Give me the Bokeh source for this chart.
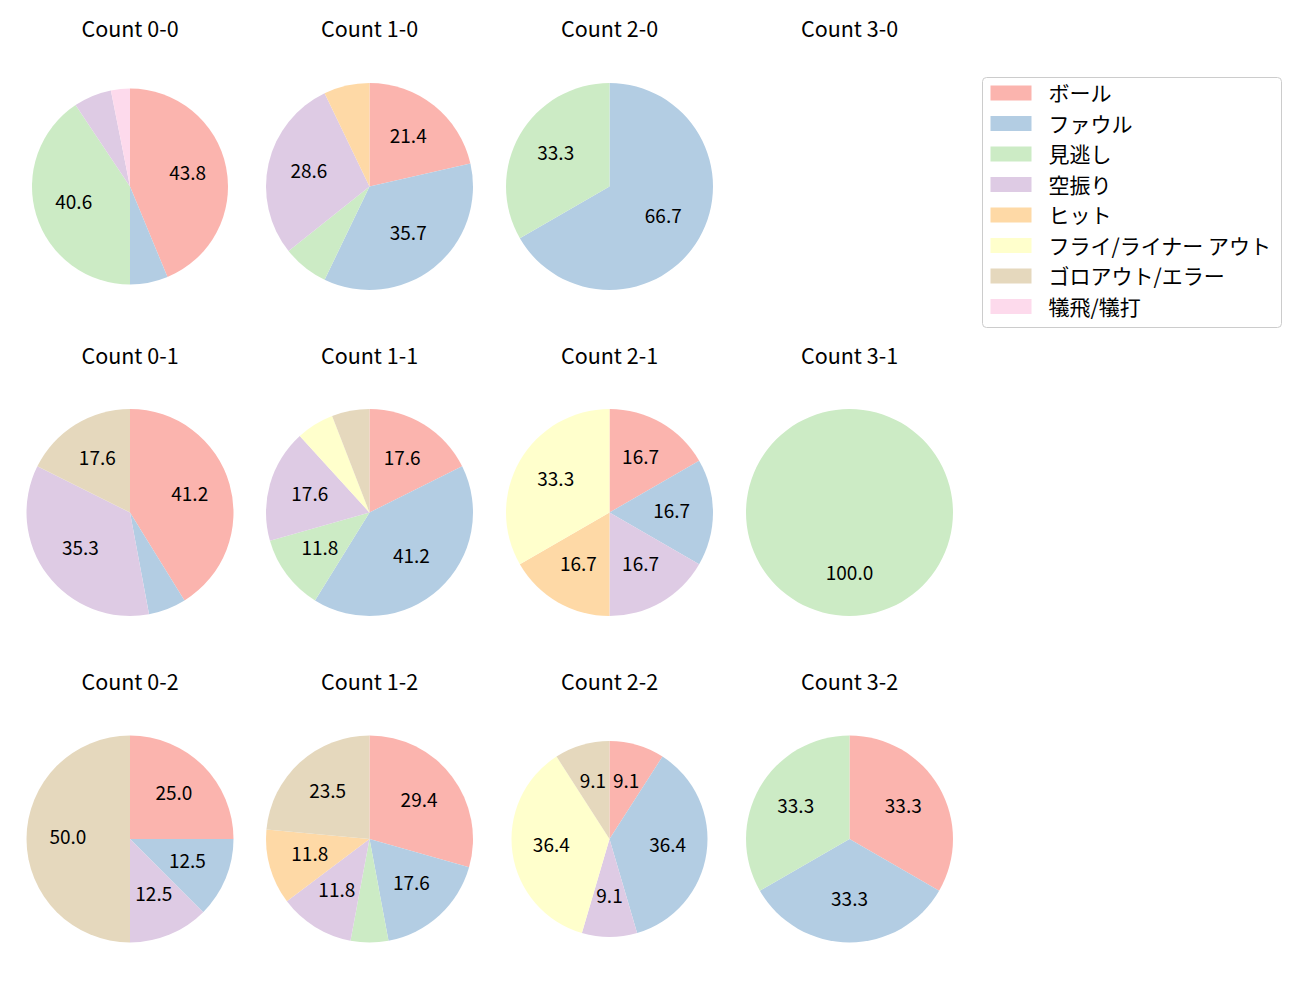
import math
from bokeh.plotting import figure
from bokeh.models import Range1d, ColumnDataSource
from bokeh.models.glyphs import Rect
from bokeh.core.properties import value
from bokeh.embed import file_html
from bokeh.resources import INLINE

# ---- data ----
categories = ["ボール", "ファウル", "見逃し", "空振り", "ヒット",
              "フライ/ライナー アウト", "ゴロアウト/エラー", "犠飛/犠打"]
colors = ["#fbb4ae", "#b3cde3", "#ccebc5", "#decbe4",
          "#fed9a6", "#ffffcc", "#e5d8bd", "#fddaec"]

titles = ["Count 0-0", "Count 1-0", "Count 2-0", "Count 3-0",
          "Count 0-1", "Count 1-1", "Count 2-1", "Count 3-1",
          "Count 0-2", "Count 1-2", "Count 2-2", "Count 3-2"]

# pitch counts per category (same order as categories)
c_0_0 = [14, 2, 13, 2, 0, 0, 0, 1]
c_1_0 = [3, 5, 1, 4, 1, 0, 0, 0]
c_2_0 = [0, 2, 1, 0, 0, 0, 0, 0]
c_3_0 = [0, 0, 0, 0, 0, 0, 0, 0]
c_0_1 = [7, 1, 0, 6, 0, 0, 3, 0]
c_1_1 = [3, 7, 2, 3, 0, 1, 1, 0]
c_2_1 = [1, 1, 0, 1, 1, 2, 0, 0]
c_3_1 = [0, 0, 1, 0, 0, 0, 0, 0]
c_0_2 = [2, 1, 0, 1, 0, 0, 4, 0]
c_1_2 = [5, 3, 1, 2, 2, 0, 4, 0]
c_2_2 = [1, 4, 0, 1, 0, 4, 1, 0]
c_3_2 = [1, 1, 1, 0, 0, 0, 0, 0]
all_counts = [c_0_0, c_1_0, c_2_0, c_3_0,
              c_0_1, c_1_1, c_2_1, c_3_1,
              c_0_2, c_1_2, c_2_2, c_3_2]

# ---- layout (data x = page x, data y = 1000 - page y) ----
W, H = 1284, 984
col_x = [129.5, 369, 609, 849]
row_y = [1000 - 186, 1000 - 512, 1000 - 838.5]
title_y = [1000 - 29, 1000 - 356, 1000 - 682]
radii = [98, 103.5, 103.5, 103.5,
         103.5, 103.5, 103.5, 103.5,
         103.5, 103.5, 98, 103.5]
FONT = "Noto Sans CJK JP"

p = figure(width=W, height=H, output_backend="svg", toolbar_location=None,
           x_range=Range1d(0, W), y_range=Range1d(1000 - H, 1000),
           min_border=0, outline_line_color=None, background_fill_color="white")
p.xaxis.visible = False
p.yaxis.visible = False
p.grid.visible = False

wedge_data = {i: dict(x=[], y=[], r=[], s=[], e=[]) for i in range(len(categories))}
lab = dict(x=[], y=[], t=[])
tit = dict(x=[], y=[], t=[])

for k, counts in enumerate(all_counts):
    row, col = divmod(k, 4)
    cx, cy = col_x[col], row_y[row]
    tit["x"].append(cx); tit["y"].append(title_y[row]); tit["t"].append(titles[k])
    total = sum(counts)
    if total == 0:
        continue
    R = radii[k]
    cum = 0.0
    for i, c in enumerate(counts):
        if c == 0:
            continue
        f0 = cum / total
        cum += c
        f1 = cum / total
        a_start = math.pi / 2 - f1 * 2 * math.pi
        a_end = math.pi / 2 - f0 * 2 * math.pi
        d = wedge_data[i]
        d["x"].append(cx); d["y"].append(cy); d["r"].append(R)
        # a full circle would collapse to nothing; keep it just short of 360 degrees
        d["s"].append(a_start + (1e-4 if c == total else 0.0))
        d["e"].append(a_end)
        pct = 100.0 * c / total
        if pct > 8:
            mid = (a_start + a_end) / 2
            lab["x"].append(cx + 0.6 * R * math.cos(mid))
            lab["y"].append(cy + 0.6 * R * math.sin(mid))
            lab["t"].append(f"{pct:.1f}")

for i, cat in enumerate(categories):
    p.wedge(x="x", y="y", radius="r", start_angle="s", end_angle="e",
            source=ColumnDataSource(wedge_data[i]),
            fill_color=colors[i], line_color=None)

p.text(x="x", y="y", text="t", source=ColumnDataSource(lab),
       text_font=value(FONT), text_font_size="19px", text_color="black",
       text_align="center", text_baseline="middle", y_offset=-2)
p.text(x="x", y="y", text="t", source=ColumnDataSource(tit),
       text_font=value(FONT), text_font_size="21.5px", text_color="black",
       text_align="center", text_baseline="middle", y_offset=-2)

# ---- legend (drawn by hand to match the box metrics) ----
box_l, box_r, box_t, box_b = 982, 1281, 77, 327
box_kw = dict(fill_color="white", line_color="#cccccc", line_width=1)
if "border_radius" in Rect.properties():
    box_kw["border_radius"] = 4
p.rect(x=[(box_l + box_r) / 2], y=[1000 - (box_t + box_b) / 2],
       width=[box_r - box_l], height=[box_b - box_t], **box_kw)

row0, step = 92.5, 30.5
leg = dict(ly=[], c=[], t=[])
for i, cat in enumerate(categories):
    leg["ly"].append(1000 - (row0 + i * step))
    leg["c"].append(colors[i])
    leg["t"].append(cat)
leg_src = ColumnDataSource(leg)
p.rect(x=(990 + 1031) / 2, y="ly", width=41, height=15, fill_color="c",
       line_color=None, source=leg_src)
p.text(x=1048, y="ly", text="t", source=leg_src,
       text_font=value(FONT), text_font_size="21px", text_color="black",
       text_align="left", text_baseline="middle", y_offset=-1)

open("out.html", "w").write(file_html(p, INLINE))
